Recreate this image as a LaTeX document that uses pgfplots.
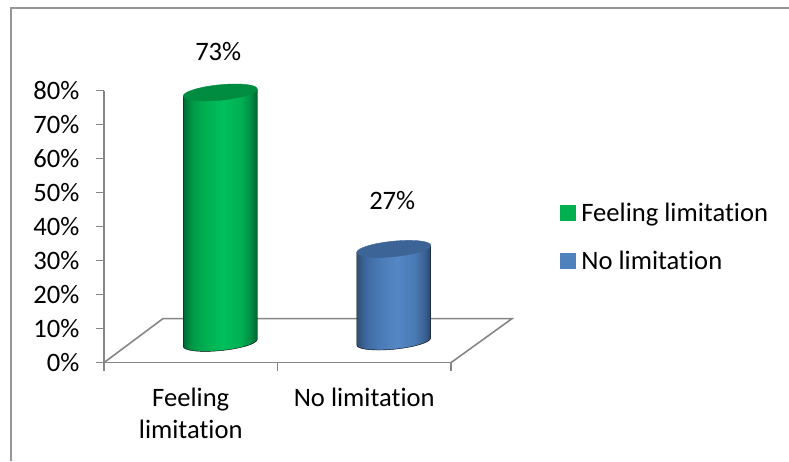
\documentclass[border=0pt]{standalone}
\usepackage{fontspec}
\setmainfont[Ligatures=NoCommon]{Carlito}
\usepackage{pgfplots}
\pgfplotsset{compat=1.18}

\definecolor{axisgray}{RGB}{134,134,134}
\definecolor{framegray}{RGB}{150,150,150}
\definecolor{legendgreen}{RGB}{0,176,80}
\definecolor{legendblue}{RGB}{79,129,189}
\definecolor{capgreen}{RGB}{0,140,64}
\definecolor{capblue}{RGB}{60,100,150}

% Side wall of each cylinder: dark at both edges, bright just right of the middle.
\pgfdeclarehorizontalshading{greenwall}{100bp}{
  rgb(0bp)=(0,0.42,0.21);
  rgb(25bp)=(0,0.42,0.21);
  rgb(31bp)=(0,0.60,0.28);
  rgb(40bp)=(0,0.69,0.32);
  rgb(52bp)=(0,0.75,0.36);
  rgb(64bp)=(0,0.69,0.32);
  rgb(71bp)=(0,0.54,0.26);
  rgb(75bp)=(0,0.38,0.19);
  rgb(100bp)=(0,0.38,0.19)}
\pgfdeclarehorizontalshading{bluewall}{100bp}{
  rgb(0bp)=(0.18,0.31,0.46);
  rgb(25bp)=(0.18,0.31,0.46);
  rgb(31bp)=(0.24,0.41,0.62);
  rgb(40bp)=(0.29,0.48,0.71);
  rgb(52bp)=(0.33,0.53,0.77);
  rgb(64bp)=(0.29,0.48,0.71);
  rgb(71bp)=(0.23,0.38,0.58);
  rgb(75bp)=(0.16,0.28,0.42);
  rgb(100bp)=(0.16,0.28,0.42)}

% Cylinder of slanted elliptical section, hung below its data point and set
% back into the floor of the plot box. The plotted value sets the wall height.
\newcommand{\cylindermark}[2]{%
  \pgfmathsetmacro{\h}{\barvalue*3.43}%
  \shade[shading=#1]
    (-7.5pt,18.4pt) -- (-7.5pt,18.4pt-\h pt)
    .. controls (-7.5pt,14.12pt-\h pt) and (9.07pt,12.22pt-\h pt) .. (29.5pt,14.15pt-\h pt)
    .. controls (49.93pt,16.08pt-\h pt) and (66.5pt,21.12pt-\h pt) .. (66.5pt,25.4pt-\h pt)
    -- (66.5pt,25.4pt) -- cycle;
  \fill[#2]
    (-7.5pt,18.4pt)
    .. controls (-7.5pt,14.12pt) and (9.07pt,12.22pt) .. (29.5pt,14.15pt)
    .. controls (49.93pt,16.08pt) and (66.5pt,21.12pt) .. (66.5pt,25.4pt)
    .. controls (66.5pt,29.68pt) and (49.93pt,31.58pt) .. (29.5pt,29.65pt)
    .. controls (9.07pt,27.72pt) and (-7.5pt,22.68pt) .. cycle;}
\pgfdeclareplotmark{greencylinder}{\cylindermark{greenwall}{capgreen}}
\pgfdeclareplotmark{bluecylinder}{\cylindermark{bluewall}{capblue}}

\pgfplotsset{
  cylinder bar/.style={
    only marks, mark=#1,
    point meta=y,
    visualization depends on={rawy \as \barvalue},
    nodes near coords={\pgfmathprintnumber{\pgfplotspointmeta}\%},
  },
  square legend/.style={
    legend image code/.code={\fill[#1] (0pt,-7pt) rectangle (15pt,7.5pt);}
  },
}

\begin{document}
\begin{tikzpicture}[x=1pt,y=1pt]
  \path[use as bounding box] (0,0) rectangle (789,-461);
  \fill[white] (0,0) rectangle (789,-461);
  \draw[framegray,line width=1.5pt] (11,-461) -- (11,-8) -- (789,-8);

  \begin{axis}[
    at={(104pt,-362.6pt)}, anchor=south west,
    scale only axis, width=347pt, height=272pt,
    xmin=0, xmax=2, ymin=0, ymax=80,
    axis lines=left, axis line style={-, axisgray, line width=1.6pt},
    clip=false,
    ytick={0,10,...,80},
    yticklabel={\pgfmathprintnumber{\tick}\%},
    xtick={0,1,2},
    x tick label as interval,
    xticklabels={{Feeling\\limitation},{No limitation}},
    tick style={axisgray, line width=1.4pt},
    tick align=outside, major tick length=8pt,
    ticklabel style={font=\fontsize{26.6}{32}\selectfont, black},
    xticklabel style={align=flush center, text width=170pt, anchor=north, yshift=-13.4pt},
    yticklabel style={anchor=east, xshift=-13pt},
    /pgf/number format/assume math mode=true,
    legend style={
      at={(456pt,125.6pt)}, anchor=west, draw=none, fill=none,
      inner sep=0pt, outer sep=0pt,
      font=\fontsize{26.6}{32}\selectfont,
      row sep=28pt,
      nodes={inner sep=0pt, anchor=west},
      legend cell align=left,
      /tikz/every odd column/.append style={column sep=6pt},
    },
  ]
    % Floor of the plot box
    \addplot[axisgray, line width=1.6pt, forget plot] coordinates {
      (0,0) (0.34,12.94) (2.352,12.94) (2,0)
    };

    \addplot[cylinder bar=greencylinder, square legend=legendgreen,
      every node near coord/.append style={anchor=center, black,
        font=\fontsize{26.6}{32}\selectfont, xshift=27.5pt, yshift=63.2pt}]
      coordinates {(0.5,73)};
    \addlegendentry{Feeling limitation}

    \addplot[cylinder bar=bluecylinder, square legend=legendblue,
      every node near coord/.append style={anchor=center, black,
        font=\fontsize{26.6}{32}\selectfont, xshift=28pt, yshift=70.6pt}]
      coordinates {(1.5,27)};
    \addlegendentry{No limitation}
  \end{axis}
\end{tikzpicture}
\end{document}
